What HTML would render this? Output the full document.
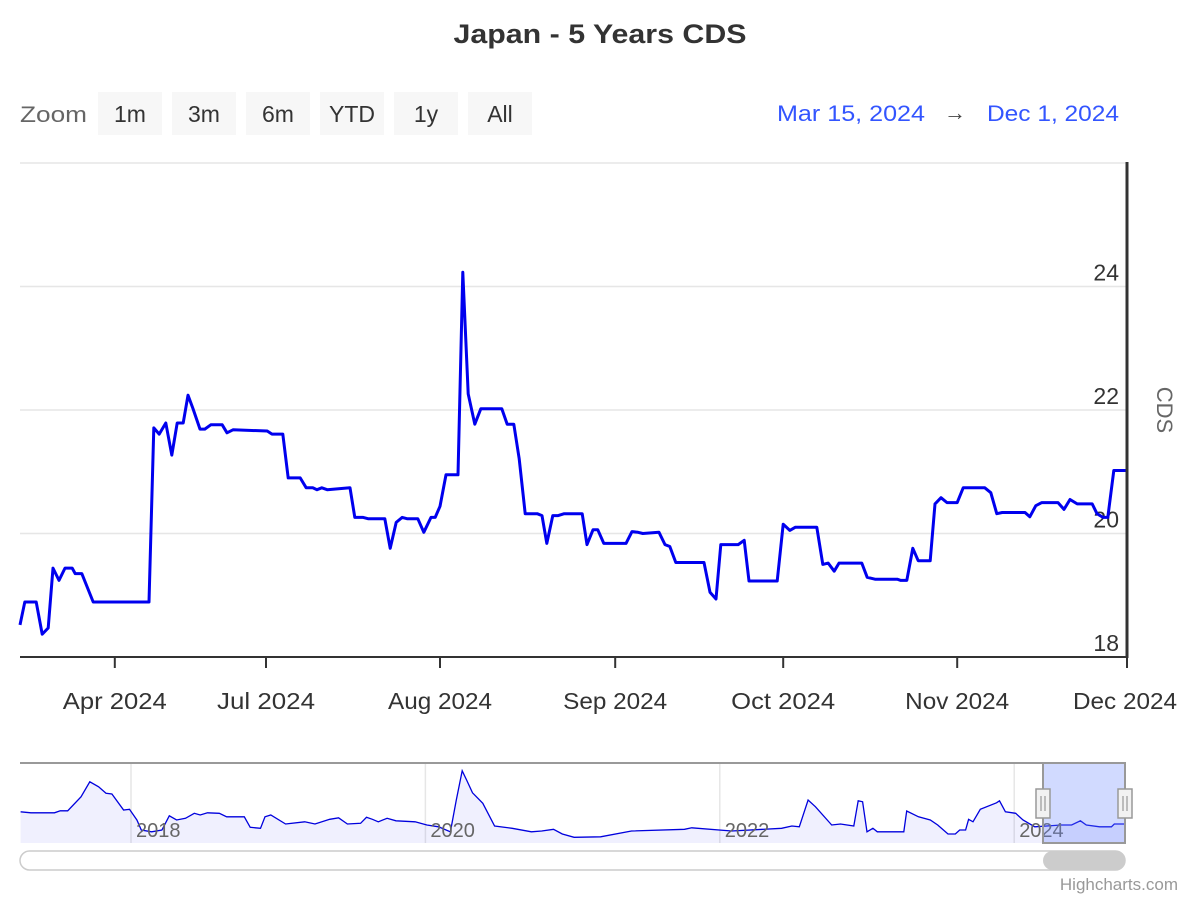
<!DOCTYPE html>
<html><head><meta charset="utf-8"><style>
body{margin:0;background:#fff;}
svg text{font-family:"Liberation Sans",sans-serif;}
</style></head><body>
<svg id="c" width="1200" height="900" xmlns="http://www.w3.org/2000/svg">
<text x="600" y="43" text-anchor="middle" font-size="27" font-weight="bold" fill="#333" textLength="293" lengthAdjust="spacingAndGlyphs">Japan - 5 Years CDS</text>
<text x="20" y="122" font-size="22" fill="#666" textLength="67" lengthAdjust="spacingAndGlyphs">Zoom</text>
<g id="btns"></g>
<text x="777" y="121" font-size="22" fill="#3355ff" textLength="148" lengthAdjust="spacingAndGlyphs">Mar 15, 2024</text>
<text x="955" y="120" text-anchor="middle" font-size="22" fill="#444">→</text>
<text x="987" y="121" font-size="22" fill="#3355ff" textLength="132" lengthAdjust="spacingAndGlyphs">Dec 1, 2024</text>
<g id="main"></g>
<g id="nav"></g>
<rect x="20" y="851" width="1105" height="19" rx="9.5" fill="#fff" stroke="#ccc" stroke-width="1.5"/>
<rect x="1043" y="851" width="82" height="19" rx="9.5" fill="#ccc"/>
<text x="1178" y="890" text-anchor="end" font-size="17" fill="#999">Highcharts.com</text>
</svg>
<script>
const days=[0,0.8,2.7,3.7,4.7,5.5,6.5,7.5,8.7,9.2,10.3,12.2,21.5,22.3,23.2,24.3,25.3,26.2,27.2,28,28.8,30,30.8,31.8,33.7,34.5,35.5,41.2,42,43.8,44.7,46.7,47.7,48.8,49.5,50.3,51.2,55,55.8,57.2,58,60.8,61.7,62.7,63.7,64.5,66.3,67.3,68.5,69.2,70,71,73,73.8,74.7,75.8,76.8,80.3,81.2,82.3,83.2,84.2,86.2,87,87.8,88.8,89.7,90.7,93.7,94.5,95.5,96.3,97.3,101,102,103,103.8,106.5,107.5,108.3,109.3,114,115,116,116.8,119.7,120.7,121.5,126.2,127.2,128.3,129.2,132.8,133.8,134.7,135.7,136.5,140.3,141.2,142.5,146.2,146.8,147.8,148.8,149.7,151.7,152.5,153.5,154.5,156.2,157.2,160.8,161.8,162.8,163.7,167.5,168.3,169.3,170.3,173,174,175,176.2,178.7,179.5,180.5,181.3,182.3,184.5];
const cds=[18.52,18.89,18.89,18.37,18.47,19.44,19.24,19.44,19.44,19.35,19.35,18.89,18.89,21.71,21.61,21.79,21.27,21.79,21.79,22.24,22.03,21.69,21.69,21.76,21.76,21.63,21.68,21.66,21.61,21.61,20.90,20.90,20.74,20.74,20.71,20.74,20.71,20.74,20.26,20.26,20.24,20.24,19.76,20.18,20.26,20.24,20.24,20.02,20.26,20.26,20.44,20.95,20.95,24.23,22.26,21.77,22.02,22.02,21.77,21.77,21.21,20.32,20.32,20.29,19.84,20.29,20.29,20.32,20.32,19.82,20.06,20.06,19.84,19.84,20.03,20.02,20.00,20.02,19.82,19.79,19.53,19.53,19.05,18.94,19.82,19.82,19.89,19.23,19.23,20.15,20.05,20.10,20.10,19.50,19.52,19.39,19.52,19.52,19.29,19.26,19.26,19.24,19.24,19.76,19.56,19.56,20.48,20.58,20.50,20.50,20.74,20.74,20.66,20.32,20.34,20.34,20.27,20.45,20.50,20.50,20.39,20.55,20.48,20.48,20.32,20.26,20.26,21.02,21.02];
const xTickLabels=["Apr 2024","Jul 2024","Aug 2024","Sep 2024","Oct 2024","Nov 2024","Dec 2024"];
const xTickDays=[15.8,41,70,99.2,127.2,156.2,184.5];
const yTicks=[18,20,22,24,26];
const navYears=[2017.25,2017.32,2017.48,2017.52,2017.57,2017.66,2017.72,2017.78,2017.83,2017.87,2017.95,2017.99,2018.04,2018.07,2018.14,2018.21,2018.26,2018.31,2018.37,2018.43,2018.47,2018.52,2018.60,2018.65,2018.77,2018.81,2018.88,2018.91,2018.95,2019.05,2019.18,2019.25,2019.35,2019.41,2019.47,2019.56,2019.60,2019.64,2019.68,2019.74,2019.80,2019.93,2020.01,2020.09,2020.17,2020.21,2020.25,2020.28,2020.32,2020.39,2020.47,2020.59,2020.72,2020.79,2020.87,2020.93,2021.01,2021.19,2021.40,2021.76,2021.81,2022.08,2022.42,2022.49,2022.54,2022.60,2022.65,2022.76,2022.82,2022.91,2022.94,2022.97,2023.00,2023.04,2023.07,2023.25,2023.27,2023.35,2023.43,2023.48,2023.55,2023.60,2023.63,2023.67,2023.69,2023.72,2023.77,2023.88,2023.90,2023.94,2024.01,2024.06,2024.14,2024.22,2024.32,2024.39,2024.45,2024.49,2024.58,2024.66,2024.68,2024.75];
const navValues=[31.4,30.6,30.6,32.2,32.2,43.4,55.4,51.4,46.2,45.6,32.8,33.4,24.8,16.8,15.4,16.8,28.2,24.8,26.2,30.2,28.8,30.6,30.2,27.4,27.4,19,18.2,27.4,28.8,21.6,23.4,21.6,25.4,26.6,21.6,22.2,27.0,25.4,23.4,26.2,24.2,23.4,20.8,19.4,15.4,40.8,64.2,56.8,46.6,38.2,20.0,18.2,15.4,16.0,17.4,13.6,11.0,11.4,16.0,17.4,18.6,16.0,18.2,20.0,19.4,40.8,35.4,20.8,21.6,20.0,40.2,39.4,15.4,18.2,15.4,15.4,32.0,27.4,24.8,20.8,13.6,13.6,16.8,16.8,25.4,23.4,33.4,38.6,40.2,31.4,30.2,24.8,19.4,20.0,20.8,20.8,24.2,20.8,19.4,19.4,21.6,21.6];
const navYearTicks=[2018,2020,2022,2024];
const buttons=["1m","3m","6m","YTD","1y","All"];

const NS="http://www.w3.org/2000/svg";
function mk(tag,attrs,parent,txt){const e=document.createElementNS(NS,tag);for(const k in attrs)e.setAttribute(k,attrs[k]);if(txt!==undefined)e.textContent=txt;parent.appendChild(e);return e;}
const X0=20,X1=1127,Y0=657,Y1=163;
const xs=d=>X0+(d-0)/(184.5-0)*(X1-X0);
const ys=v=>Y0-(v-18)/(26-18)*(Y0-Y1);

const bg=document.getElementById('btns');
buttons.forEach((b,i)=>{
  const x=98+i*74;
  const r=mk('rect',{x:x,y:92,width:64,height:43,fill:'#f7f7f7'},bg);
  
  
  const t=mk('text',{x:x+32,y:122,'text-anchor':'middle','font-size':23,fill:'#333'},bg,b);
  
  
});

const m=document.getElementById('main');
yTicks.forEach(v=>{
  const g=mk('line',{x1:X0,x2:X1,y1:ys(v),y2:ys(v),stroke:'#e6e6e6','stroke-width':1.5},m);
  
  
  if(v<26){
    const t=mk('text',{x:1119,y:ys(v)-6,'text-anchor':'end','font-size':23,fill:'#333'},m,String(v));
    
    
  }
});
xTickDays.forEach((d,i)=>{
  const l=mk('line',{x1:xs(d),x2:xs(d),y1:Y0,y2:Y0+11,stroke:'#333','stroke-width':2},m);
  
  
  const last=i==xTickDays.length-1;
  const t=mk('text',{x:last?1073:xs(d),y:709,'text-anchor':last?'start':'middle','font-size':23,fill:'#333',textLength:(xTickLabels[i].startsWith('Jul')?98:104),lengthAdjust:'spacingAndGlyphs'},m,xTickLabels[i]);
  
  
});
const line=mk('path',{d:days.map((d,i)=>(i?'L':'M')+xs(d).toFixed(1)+','+ys(cds[i]).toFixed(1)).join(''),fill:'none',stroke:'#0000ee','stroke-width':3,'stroke-linejoin':'round'},m);


const xa=mk('line',{x1:X0,x2:X1,y1:Y0,y2:Y0,stroke:'#333','stroke-width':2},m);


const ya=mk('line',{x1:X1,x2:X1,y1:162,y2:Y0+1,stroke:'#333','stroke-width':3},m);


const yt=mk('text',{x:1157,y:410,'text-anchor':'middle','font-size':22,fill:'#666',transform:'rotate(90 1157 410)'},m,'CDS');



const n=document.getElementById('nav');
const NX0=20,NX1=1125,NY0=843,NY1=763;
const nxs=t=>131+(t-2018)*147.2;
const nys=v=>826-(v-20)*1.25;
navYearTicks.forEach(y=>{
  const g=mk('line',{x1:nxs(y),x2:nxs(y),y1:NY1,y2:NY0,stroke:'#e6e6e6','stroke-width':1.5},n);
  
  
});
const pts=navYears.map((t,i)=>nxs(t).toFixed(1)+','+nys(navValues[i]).toFixed(1));
const area=mk('path',{d:'M'+nxs(navYears[0])+','+NY0+'L'+pts.join('L')+'L'+nxs(navYears[navYears.length-1])+','+NY0+'Z',fill:'rgba(0,0,230,0.06)'},n);


const nl=mk('path',{d:'M'+pts.join('L'),fill:'none',stroke:'#0000dd','stroke-width':1.3},n);


navYearTicks.forEach(y=>{
  const t=mk('text',{x:nxs(y)+5,y:837,'font-size':20,fill:'#666'},n,String(y));
  
  
});
const sel=mk('rect',{x:1043,y:NY1,width:82,height:80,fill:'rgba(102,133,255,0.3)'},n);


const ol=mk('path',{d:'M20,763L1043,763L1043,843L1125,843L1125,763L1043,763',fill:'none',stroke:'#999','stroke-width':2},n);


[1043,1125].forEach((hx,i)=>{
  const h=mk('rect',{x:hx-7,y:789,width:14,height:29,fill:'#f2f2f2',stroke:'#999','stroke-width':1.5},n);
  
  
  mk('path',{d:`M${hx-2},796L${hx-2},811M${hx+2},796L${hx+2},811`,stroke:'#999','stroke-width':1.2},n);
});
</script>
</body></html>
